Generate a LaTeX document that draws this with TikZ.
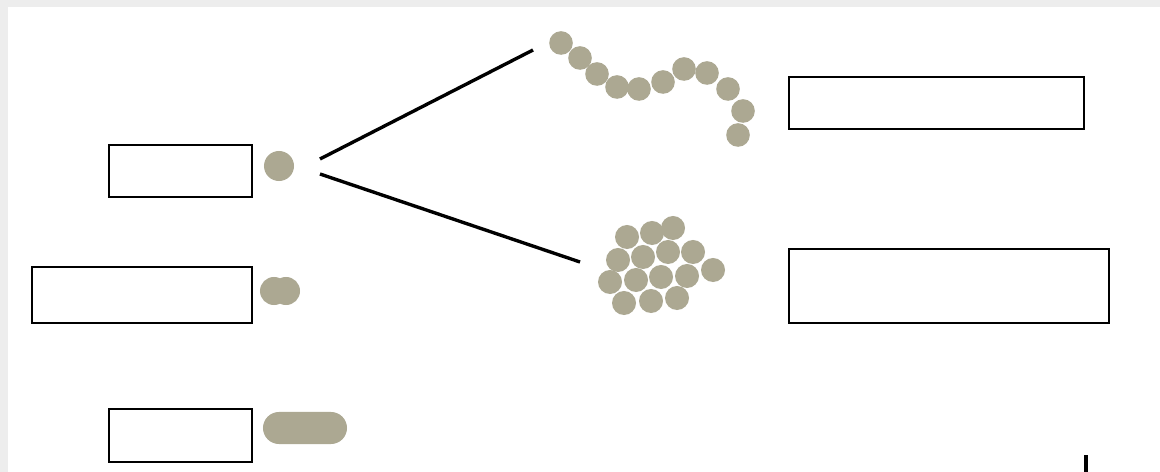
\documentclass[tikz,border=0pt]{standalone}
\usepackage{tikz}
\definecolor{cellcolor}{rgb}{0.675, 0.659, 0.573}
\definecolor{framecolor}{rgb}{0.93, 0.93, 0.93}
\usetikzlibrary{positioning}
\tikzset{
	labelbox/.style={
		rectangle,
		draw=black,
		line width=1.3pt,
		fill=white,
		inner sep=0pt
	},
	coccus/.style={
		circle,
		fill=cellcolor,
		inner sep=0pt,
		minimum size=#1
	},
	coccus/.default=5.9mm,
	rod/.style={
		rectangle,
		fill=cellcolor,
		rounded corners=4mm,
		minimum width=2.1cm,
		minimum height=8mm,
		inner sep=0pt
	},
	link/.style={
		draw=black,
		line width=2.4pt
	},
}

\begin{document}
\begin{tikzpicture}[x=0.025cm,y=-0.025cm]
\useasboundingbox (0,0) rectangle (1160,472);
\fill[framecolor] (0,0) rectangle (1160,472);
\fill[white] (8,7) rectangle (1160,472);

% empty label boxes
\node [labelbox,minimum width=3.575cm,minimum height=1.3cm] (b1) at (180.5,171) {};
\node [labelbox,minimum width=5.5cm,minimum height=1.4cm] (b2) at (142,295) {};
\node [labelbox,minimum width=3.575cm,minimum height=1.325cm] (b3) at (180.5,435.5) {};
\node [labelbox,minimum width=7.375cm,minimum height=1.3cm] (b4) at (936.5,103) {};
\node [labelbox,minimum width=8cm,minimum height=1.85cm] (b5) at (949,286) {};

% single cell, pair and rod
\node [coccus=7.5mm] (cell) at (279,166) {};
\node [coccus=7mm] (pair1) at (274,291) {};
\node [coccus=7mm] (pair2) at (286,291) {};
\node [rod] (rod) at (305,428) {};

% chain
\foreach \x/\y [count=\i] in {561/43,580/58,597/74,617/87,639/89,663/82,684/69,707/73,728/89,743/111,738/135}
	\node [coccus] (s\i) at (\x,\y) {};

% cluster
\foreach \x/\y [count=\i] in {627/237,652/233,673/228,618/260,643/257,668/252,693/252,610/282,636/280,661/277,687/276,713/270,624/303,651/301,677/298}
	\node [coccus=6mm] (c\i) at (\x,\y) {};

\coordinate (fork1) at (320,159);
\coordinate (fork2) at (320,174);
\coordinate (tochain) at (533,50);
\coordinate (tocluster) at (580,262);
\draw[link] (fork1) -- (tochain);
\draw[link] (fork2) -- (tocluster);

\coordinate (tick) at (1086,455);
\draw[black,line width=2.4pt] (tick) -- ++(0,17);
\end{tikzpicture}
\end{document}
